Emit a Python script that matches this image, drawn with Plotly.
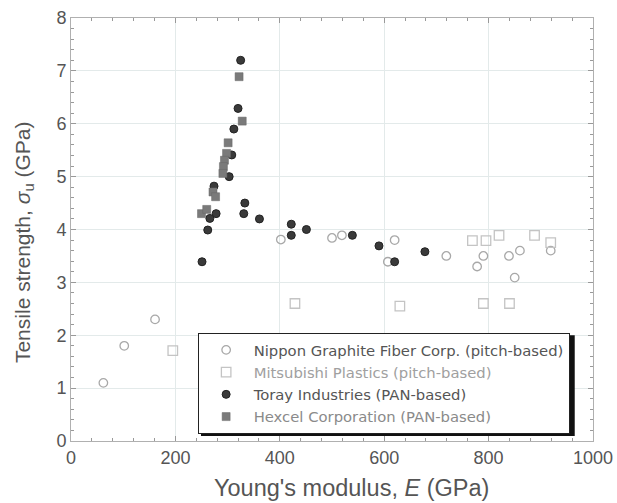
import plotly.graph_objects as go

# Nippon Graphite Fiber Corp. (pitch-based)
nippon_E = [62, 102, 161, 402, 500, 519, 620, 607, 719, 790, 778, 839, 860, 850, 919]
nippon_s = [1.10, 1.80, 2.30, 3.81, 3.84, 3.89, 3.80, 3.39, 3.50, 3.50, 3.30, 3.50, 3.60, 3.09, 3.60]
# Mitsubishi Plastics (pitch-based)
mitsu_E = [195, 429, 630, 790, 840, 769, 795, 820, 888, 919]
mitsu_s = [1.71, 2.60, 2.55, 2.60, 2.60, 3.79, 3.79, 3.89, 3.89, 3.75]
# Toray Industries (PAN-based)
toray_E = [325, 320, 312, 308, 303, 274, 333, 331, 278, 266, 262, 361, 422, 422, 251, 451, 539, 590, 620, 678]
toray_s = [7.20, 6.29, 5.90, 5.41, 5.00, 4.82, 4.50, 4.30, 4.30, 4.21, 3.99, 4.20, 4.10, 3.89, 3.39, 4.00, 3.89, 3.69, 3.39, 3.58]
# Hexcel Corporation (PAN-based)
hexcel_E = [322, 328, 301, 298, 294, 292, 291, 272, 277, 250, 260]
hexcel_s = [6.89, 6.05, 5.64, 5.44, 5.31, 5.19, 5.06, 4.71, 4.62, 4.30, 4.38]

x_title = "Young's modulus, <i>E</i> (GPa)"
y_title = "Tensile strength, <i>σ</i><sub>u</sub> (GPa)"

fig = go.Figure()
fig.add_trace(go.Scatter(x=nippon_E, y=nippon_s, mode="markers",
                         name='<span style="color:#555">Nippon Graphite Fiber Corp. (pitch-based)</span>',
                         marker=dict(symbol="circle-open", size=8.5, color="#a8a8a8", line=dict(width=1.3))))
fig.add_trace(go.Scatter(x=mitsu_E, y=mitsu_s, mode="markers",
                         name='<span style="color:#a0a0a0">Mitsubishi Plastics (pitch-based)</span>',
                         marker=dict(symbol="square-open", size=9.5, color="#c4c4c4", line=dict(width=1.3))))
fig.add_trace(go.Scatter(x=toray_E, y=toray_s, mode="markers",
                         name='<span style="color:#555">Toray Industries (PAN-based)</span>',
                         marker=dict(symbol="circle", size=8, color="#3a3a3a", line=dict(width=1, color="#222"))))
fig.add_trace(go.Scatter(x=hexcel_E, y=hexcel_s, mode="markers",
                         name='<span style="color:#8a8a8a">Hexcel Corporation (PAN-based)</span>',
                         marker=dict(symbol="square", size=8, color="#7a7a7a", line=dict(width=0.5, color="#666"))))

# legend shadow
fig.add_shape(type="rect", xref="paper", yref="paper",
              x0=0.249, x1=0.965, y0=0.012, y1=0.25,
              fillcolor="#111", line=dict(width=0), layer="above")

# axis titles
fig.add_annotation(text=x_title, xref="paper", yref="paper", x=0.538, y=-0.1105,
                   xanchor="center", yanchor="middle", showarrow=False,
                   font=dict(family="Liberation Sans", size=23.5, color="#555"))
fig.add_annotation(text=y_title, xref="paper", yref="paper", x=-0.090, y=0.468,
                   xanchor="center", yanchor="middle", showarrow=False, textangle=-90,
                   font=dict(family="Liberation Sans", size=21, color="#555"))

base = dict(
    showgrid=True, gridcolor="#e3eaea", gridwidth=1,
    showline=True, linecolor="#b0b0b0", linewidth=1, mirror="ticks",
    ticks="inside", ticklen=5, tickcolor="#999",
    zeroline=False, automargin=False,
    tickfont=dict(family="Liberation Sans", size=18, color="#555"),
)

fig.update_layout(
    width=617, height=503,
    margin=dict(l=71, r=24, t=18, b=62),
    paper_bgcolor="white", plot_bgcolor="white",
    showlegend=True,
    font=dict(family="Liberation Sans", color="#555"),
    xaxis=dict(range=[0, 1000], dtick=200, tick0=0,
               minor=dict(dtick=40, ticks="inside", ticklen=3, tickcolor="#999"),
               **base),
    yaxis=dict(range=[0, 8], dtick=1, tick0=0,
               minor=dict(dtick=0.2, ticks="inside", ticklen=3, tickcolor="#999"),
               **base),
    legend=dict(x=0.2426, y=0.2559, xanchor="left", yanchor="top",
                bgcolor="white", bordercolor="#222", borderwidth=1,
                font=dict(family="DejaVu Sans", size=14.8, color="#666"),
                itemwidth=45, tracegroupgap=0),
)

fig.write_html("out.html")
